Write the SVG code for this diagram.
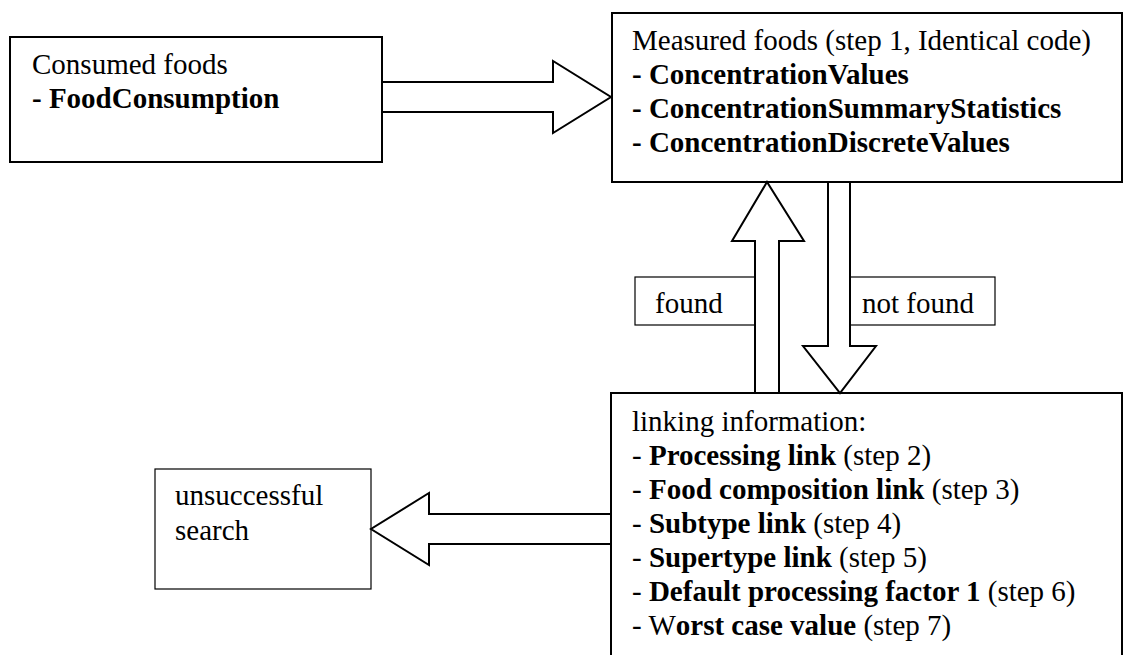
<svg xmlns="http://www.w3.org/2000/svg" width="1126" height="655" viewBox="0 0 1126 655">
<style>
.box{fill:#fff;stroke:#000;stroke-width:2}
.thin{fill:#fff;stroke:#000;stroke-width:1.2}
.arrow{fill:#fff;stroke:#000;stroke-width:2;stroke-linejoin:miter}
text{font-family:"Liberation Serif","Times New Roman",serif;font-size:29px;fill:#000}
.b{font-weight:bold}
</style>
<rect width="1126" height="655" fill="#fff"/>
<g id="label-found">
<rect class="thin" x="635" y="277" width="120" height="48"/>
<text x="655" y="313">found</text>
</g>
<g id="label-notfound">
<rect class="thin" x="850" y="277" width="145" height="48"/>
<text x="862" y="313">not found</text>
</g>
<g id="consumed">
<rect class="box" x="10" y="37" width="372" height="125"/>
<text x="32" y="74">Consumed foods</text>
<text x="32" y="108"><tspan class="b">- FoodConsumption</tspan></text>
</g>
<g id="measured">
<rect class="box" x="612" y="13" width="510" height="169"/>
<text x="632" y="50">Measured foods (step 1, Identical code)</text>
<text x="632" y="84" class="b">- ConcentrationValues</text>
<text x="632" y="118" class="b">- ConcentrationSummaryStatistics</text>
<text x="632" y="152" class="b">- ConcentrationDiscreteValues</text>
</g>
<g id="linking">
<rect class="box" x="611" y="393" width="511" height="280"/>
<text x="632" y="431">linking information:</text>
<text x="632" y="465">- <tspan class="b">Processing link</tspan> (step 2)</text>
<text x="632" y="499">- <tspan class="b">Food composition link</tspan> (step 3)</text>
<text x="632" y="533">- <tspan class="b">Subtype link</tspan> (step 4)</text>
<text x="632" y="567">- <tspan class="b">Supertype link</tspan> (step 5)</text>
<text x="632" y="601">- <tspan class="b">Default processing factor 1</tspan> (step 6)</text>
<text x="632" y="635">- W<tspan class="b">orst case value</tspan> (step 7)</text>
</g>
<g id="unsuccessful">
<rect class="thin" x="155" y="469" width="216" height="120"/>
<text x="175" y="505">unsuccessful</text>
<text x="175" y="540">search</text>
</g>
<g id="connectors">
<polygon class="arrow" points="382,82 553,82 553,61 611,97 553,133 553,112 382,112"/>
<polygon class="arrow" points="755,393 755,241 732,241 767,182 804,241 779,241 779,393"/>
<polygon class="arrow" points="828,182 828,346 803,346 840,393 876,346 850,346 850,182"/>
<polygon class="arrow" points="611,514 429,514 429,493 371,529 429,565 429,544 611,544"/>
</g>
</svg>
